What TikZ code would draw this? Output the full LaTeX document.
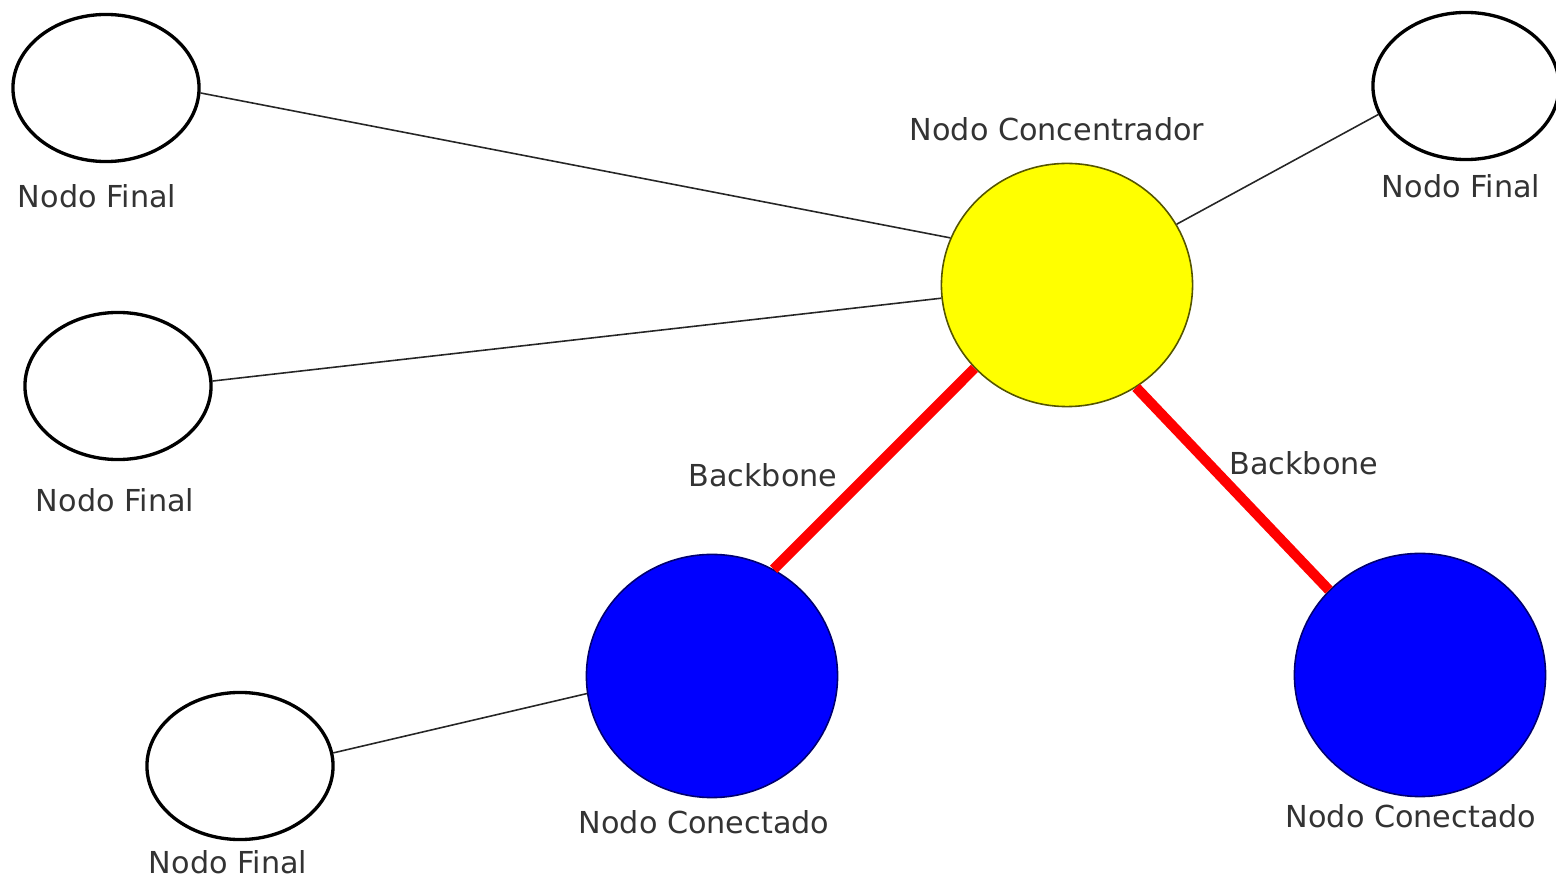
\documentclass[tikz,border=0pt]{standalone}
\usepackage{fontspec}
\setmainfont{DejaVu Sans}
\usetikzlibrary{shapes.geometric}
\definecolor{txt}{HTML}{333333}
\definecolor{yelline}{HTML}{555500}
\definecolor{bluline}{HTML}{000070}
\definecolor{hubfill}{RGB}{255,255,0}
\definecolor{connfill}{RGB}{0,0,255}
\definecolor{bbred}{RGB}{255,0,0}
\tikzset{
  endnode/.style={ellipse, draw=black, line width=0.95pt, fill=white, inner sep=0pt, minimum width=1.86cm, minimum height=1.47cm},
  hubnode/.style={ellipse, draw=yelline, line width=0.45pt, fill=hubfill, inner sep=0pt, minimum width=2.51cm, minimum height=2.43cm},
  connnode/.style={ellipse, draw=bluline, line width=0.45pt, fill=connfill, inner sep=0pt, minimum width=2.51cm, minimum height=2.43cm},
  lbl/.style={text=txt, font=\fontsize{8.6}{10}\selectfont, inner sep=0pt},
  thinlink/.style={draw=black!85, line width=0.45pt},
  backbone/.style={draw=bbred, line width=2.9pt}
}
\begin{document}
\begin{tikzpicture}[x=0.01cm, y=-0.01cm]
\useasboundingbox (0,0) rectangle (1556,876);
% nodes
\node[endnode] (tl) at (106,88) {};
\node[endnode] (tr) at (1466,86) {};
\node[endnode] (ml) at (118,386) {};
\node[endnode] (bl) at (240,766) {};
\node[hubnode] (hub) at (1067,285) {};
\node[connnode] (cl) at (712,676) {};
\node[connnode] (cr) at (1420,675) {};
% labels
\node[lbl] (ltl) at (97,196) {Nodo Final};
\node[lbl] (ltr) at (1461,186) {Nodo Final};
\node[lbl] (lml) at (115,500) {Nodo Final};
\node[lbl] (lbl) at (228,862) {Nodo Final};
\node[lbl] (lhub) at (1057,129) {Nodo Concentrador};
\node[lbl] (lcl) at (704,822) {Nodo Conectado};
\node[lbl] (lcr) at (1411,816) {Nodo Conectado};
\node[lbl] (bb1) at (763,475) {Backbone};
\node[lbl] (bb2) at (1304,463) {Backbone};
% connectors
\draw[thinlink] (tl.-3) -- (hub.158);
\draw[thinlink] (ml.3.6) -- (hub.-174);
\draw[thinlink] (tr.198.6) -- (hub.29.2);
\draw[thinlink] (bl.8.6) -- (cl.188.7);
\draw[backbone] (hub.222.7) -- (cl.60.9);
\draw[backbone] (hub.-56.4) -- (cr.137.3);
\end{tikzpicture}
\end{document}
